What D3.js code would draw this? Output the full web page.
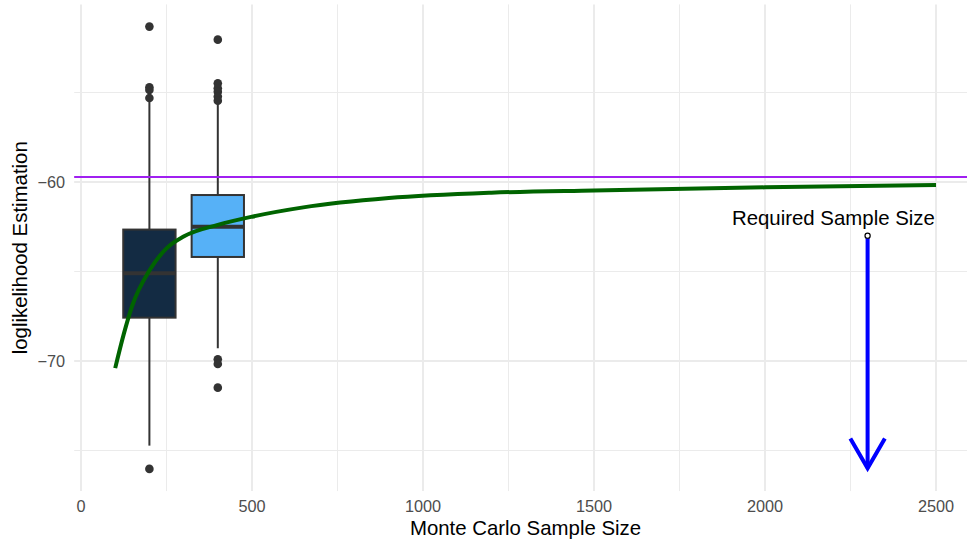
<!DOCTYPE html>
<html>
<head>
<meta charset="utf-8">
<script src="https://cdn.jsdelivr.net/npm/d3@7"></script>
<style>
  html, body { margin: 0; padding: 0; background: #ffffff; }
  svg { display: block; font-family: "Liberation Sans", Arial, Helvetica, sans-serif; }
</style>
</head>
<body>
<svg id="chart" width="967" height="541"></svg>
<script>
// ---- data ----
const groups      = [200, 400];
const boxFills    = ["#132B43", "#56B1F7"];
const q1          = [-67.58, -64.19];
const medians     = [-65.10, -62.50];
const q3          = [-62.66, -60.73];
const whiskerLow  = [-74.73, -69.29];
const whiskerHigh = [-55.51, -55.60];
const outliers    = [
  [-51.32, -54.71, -54.86, -55.31, -76.03],
  [-52.05, -54.49, -54.77, -54.96, -55.23, -55.46, -69.91, -70.17, -71.49]
];
const boxWidth = 153;

const curveN      = [100, 125, 150, 200, 250, 300, 400, 500, 650, 900, 1200, 1500, 2000, 2500];
const curveValues = [-70.40, -68.50, -66.90, -64.95, -63.71, -63.05, -62.40, -61.94, -61.42, -60.90, -60.60, -60.47, -60.30, -60.17];

const trueLogLik = -59.72;
const requiredN = 2300;
const arrowFrom = -63.0;
const arrowTo = -76.0;
const labelN = 2200;
const labelY = -62.0;
const labelText = "Required Sample Size";

const xMajor = [0, 500, 1000, 1500, 2000, 2500];
const xMinor = [250, 750, 1250, 1750, 2250];
const yMajor = [-70, -60];
const yMinor = [-75, -65, -55];
const xTickLabels = ["0", "500", "1000", "1500", "2000", "2500"];
const yTickLabels = ["\u221270", "\u221260"];

// ---- scales ----
const svg = d3.select("#chart");
const panel = { left: 74.16, right: 977, top: 4.4, bottom: 491.1 };
const x = d3.scaleLinear().domain([-20, 2620]).range([panel.left, panel.left + 2640 * 0.342]);
const y = d3.scaleLinear().domain([-77.27, -50.08]).range([491.1, 4.4]);

const gridColor = "#EBEBEB";
const g = svg.append("g");

// grid
g.selectAll(".xminor").data(xMinor).enter().append("line")
  .attr("x1", d => x(d)).attr("x2", d => x(d))
  .attr("y1", panel.top).attr("y2", panel.bottom)
  .attr("stroke", gridColor).attr("stroke-width", 1);
g.selectAll(".yminor").data(yMinor).enter().append("line")
  .attr("y1", d => y(d)).attr("y2", d => y(d))
  .attr("x1", panel.left).attr("x2", panel.right)
  .attr("stroke", gridColor).attr("stroke-width", 1);
g.selectAll(".xmajor").data(xMajor).enter().append("line")
  .attr("x1", d => x(d)).attr("x2", d => x(d))
  .attr("y1", panel.top).attr("y2", panel.bottom)
  .attr("stroke", gridColor).attr("stroke-width", 2);
g.selectAll(".ymajor").data(yMajor).enter().append("line")
  .attr("y1", d => y(d)).attr("y2", d => y(d))
  .attr("x1", panel.left).attr("x2", panel.right)
  .attr("stroke", gridColor).attr("stroke-width", 2);

// boxplots
const outline = "#333333";
groups.forEach((n, i) => {
  const bx = g.append("g");
  const cx = x(n);
  const half = (x(n + boxWidth / 2) - x(n - boxWidth / 2)) / 2;
  bx.append("line").attr("x1", cx).attr("x2", cx)
    .attr("y1", y(q3[i])).attr("y2", y(whiskerHigh[i]))
    .attr("stroke", outline).attr("stroke-width", 2);
  bx.append("line").attr("x1", cx).attr("x2", cx)
    .attr("y1", y(q1[i])).attr("y2", y(whiskerLow[i]))
    .attr("stroke", outline).attr("stroke-width", 2);
  bx.append("rect")
    .attr("x", cx - half).attr("width", 2 * half)
    .attr("y", y(q3[i])).attr("height", y(q1[i]) - y(q3[i]))
    .attr("fill", boxFills[i]).attr("stroke", outline).attr("stroke-width", 2);
  bx.append("line").attr("x1", cx - half).attr("x2", cx + half)
    .attr("y1", y(medians[i])).attr("y2", y(medians[i]))
    .attr("stroke", outline).attr("stroke-width", 4);
  bx.selectAll("circle").data(outliers[i]).enter().append("circle")
    .attr("cx", cx).attr("cy", d => y(d)).attr("r", 4.3)
    .attr("fill", outline);
});

// true log-likelihood line
g.append("line")
  .attr("x1", panel.left).attr("x2", panel.right)
  .attr("y1", y(trueLogLik)).attr("y2", y(trueLogLik))
  .attr("stroke", "#A020F0").attr("stroke-width", 2);

// curve
const line = d3.line().x(d => x(d[0])).y(d => y(d[1])).curve(d3.curveMonotoneX);
g.append("path")
  .datum(curveN.map((n, i) => [n, curveValues[i]]))
  .attr("d", line)
  .attr("fill", "none").attr("stroke", "#006400").attr("stroke-width", 4);

// arrow
const ax = x(requiredN), ay0 = y(arrowFrom), ay1 = y(arrowTo);
g.append("line").attr("x1", ax).attr("x2", ax).attr("y1", ay0).attr("y2", ay1)
  .attr("stroke", "#0000FF").attr("stroke-width", 4);
const headLen = 34.5, ang = 30 * Math.PI / 180;
g.append("path")
  .attr("d", `M${ax - headLen * Math.sin(ang)},${ay1 - headLen * Math.cos(ang)} L${ax},${ay1} L${ax + headLen * Math.sin(ang)},${ay1 - headLen * Math.cos(ang)}`)
  .attr("fill", "none").attr("stroke", "#0000FF").attr("stroke-width", 4)
  .attr("stroke-linecap", "butt").attr("stroke-linejoin", "miter");
g.append("circle").attr("cx", ax).attr("cy", ay0).attr("r", 2.6)
  .attr("fill", "#ffffff").attr("stroke", "#000000").attr("stroke-width", 1.2);

// annotation text
g.append("text").attr("x", x(labelN)).attr("y", y(labelY)).attr("dy", "0.35em")
  .attr("text-anchor", "middle").attr("font-size", "20.4px").attr("fill", "#000000")
  .text(labelText);

// axes labels
svg.selectAll(".xtick").data(xMajor).enter().append("text")
  .attr("x", d => x(d)).attr("y", 512)
  .attr("text-anchor", "middle").attr("font-size", "16.3px").attr("fill", "#4D4D4D")
  .text((d, i) => xTickLabels[i]);
svg.selectAll(".ytick").data(yMajor).enter().append("text")
  .attr("x", 65).attr("y", d => y(d) + 5.9)
  .attr("text-anchor", "end").attr("font-size", "16.3px").attr("fill", "#4D4D4D")
  .text((d, i) => yTickLabels[i]);

svg.append("text").attr("x", (x(0) + x(2500)) / 2 + 17).attr("y", 534.5)
  .attr("text-anchor", "middle").attr("font-size", "20.4px").attr("fill", "#000000")
  .text("Monte Carlo Sample Size");
svg.append("text").attr("transform", `translate(27,${(panel.top + panel.bottom) / 2}) rotate(-90)`)
  .attr("text-anchor", "middle").attr("font-size", "20.4px").attr("fill", "#000000")
  .text("loglikelihood Estimation");
</script>
</body>
</html>
